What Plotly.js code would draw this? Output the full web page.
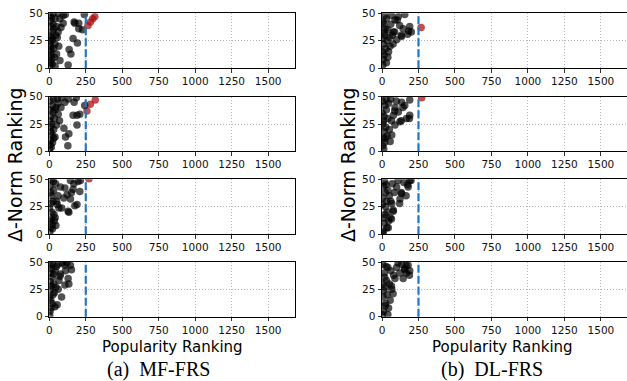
<!DOCTYPE html>
<html>
<head>
<meta charset="utf-8">
<script src="https://cdn.plot.ly/plotly-3.0.1.min.js"></script>
<style>html,body{margin:0;padding:0;background:#fff;}#chart{width:627px;height:381px;}</style>
</head>
<body>
<div id="chart"></div>
<script>
// ---- data: Popularity Ranking (x) vs Δ-Norm Ranking (y) ----
const threshold = 250;
const xTicks = [0, 250, 500, 750, 1000, 1250, 1500];
const yTicks = [0, 25, 50];
const panelCaptions = ["(a)  MF-FRS", "(b)  DL-FRS"];
const xLabel = "Popularity Ranking";
const yLabel = "Δ-Norm Ranking";

// MF-FRS, row 1
const mf1X = [265,282,298,312,240,202,227,175,202,170,163,193,136,148,129,73,95,73,39,95,39,50,61,110,80,55,45,30,25,20,15,10,8,5,12,3,18,6,2,30,22,40,35,15,5,28,60,10,4,2,8,50,65,20,12];
const mf1Y = [39,42,45,47,49,36,35,41,41,42,27,23,17,13,3,7,41,45,45,48,22,13,33,49,37,28,30,36,40,33,28,25,20,15,12,10,8,5,2,18,26,2,10,46,48,50,50,38,30,22,43,38,20,4,17];
// MF-FRS, row 2
const mf2X = [258,281,315,243,170,209,163,190,190,134,127,100,111,107,61,39,30,84,185,130,60,45,70,35,25,20,15,10,8,5,3,12,18,22,6,28,50,40,4,2,14,9,55,80,30];
const mf2Y = [37,43,47,42,45,34,33,24,33,16,5,21,13,45,34,13,20,49,49,48,44,40,28,30,36,42,25,18,10,6,2,32,15,8,46,48,24,38,28,38,4,22,48,40,12];
// MF-FRS, row 3
const mf3X = [272,213,197,168,145,163,209,152,122,145,100,190,175,134,129,107,77,54,66,43,32,20,85,60,30,25,15,10,18,12,8,4,6,22,35,40,2,5,28,15,50,45,10];
const mf3Y = [50.5,49,48,46,49,41,39,38,36,32,33,27,26,20,21,42,43,27,24,46,18,9,24,35,40,30,35,28,20,14,6,2,12,5,12,15,24,44,48,50,30,8,38];
// MF-FRS, row 4
const mf4X = [152,145,129,111,107,134,84,39,50,107,73,61,77,54,66,90,120,40,30,25,20,15,10,8,5,3,12,18,35,45,28,6,2,22,60,14,4,9];
const mf4Y = [43,47,35,42,29,30,18,9,46,47,37,25,39,11,33,49,49,42,30,20,36,44,15,25,5,1,8,12,22,27,39,32,18,48,48,28,40,47];

// DL-FRS, row 1
const dl1X = [268,183,201,190,145,134,156,112,89,78,100,105,87,76,121,176,132,60,50,40,35,30,25,20,15,10,8,5,2,12,18,45,55,30,22,65,4,6,14,40,70];
const dl1Y = [37,34,33,38,36,29,49,47,44,33,26,44,33,22,39,31,30,40,28,35,25,45,18,30,12,22,8,3,15,40,48,15,20,5,36,48,27,42,33,10,30];
// DL-FRS, row 2
const dl2X = [272,190,156,190,168,123,112,89,134,78,89,67,56,188,132,143,98,87,60,45,40,30,25,20,15,10,8,5,2,12,18,35,50,28,6,4,14,65,22];
const dl2Y = [49,47,42,33,30,27,36,40,45,33,24,15,9,30,28,40,46,37,48,44,30,38,22,42,18,28,12,5,35,2,8,14,20,48,25,46,32,28,12];
// DL-FRS, row 3
const dl3X = [190,199,179,176,134,165,100,123,121,132,78,76,67,65,56,43,33,150,110,85,70,50,40,30,25,20,15,10,5,8,12,18,4,22,35,45,2,60,28];
const dl3Y = [49,49,43,45,37,35,43,32,28,38,21,22,28,14,15,6,6,47,49,38,46,35,40,30,25,18,10,3,1,15,44,48,33,38,20,12,27,30,45];
// DL-FRS, row 4
const dl4X = [179,190,156,168,123,134,100,89,67,56,45,188,154,165,65,76,110,145,80,60,50,40,35,30,25,20,15,10,8,5,3,12,18,22,28,4,40];
const dl4Y = [47,42,44,40,40,48,45,35,25,15,8,38,43,47,28,21,49,35,38,42,30,45,20,33,12,27,40,5,18,48,2,24,36,10,46,30,2];

const panels = [
  [mf1X, mf1Y], [mf2X, mf2Y], [mf3X, mf3Y], [mf4X, mf4Y],
  [dl1X, dl1Y], [dl2X, dl2Y], [dl3X, dl3Y], [dl4X, dl4Y]
];

// ---- layout geometry (pixels) ----
const W = 627, H = 381;
const colPx = [[49.3, 294.7], [382, 627]];
const rowPx = [[13.3, 68.3], [96.7, 151.3], [179.3, 234.3], [262, 316.7]];
const xMax = [1682, 1679];

const data = [];
const layout = {
  width: W, height: H,
  margin: {l: 0, r: 0, t: 0, b: 0},
  paper_bgcolor: '#fff', plot_bgcolor: '#fff',
  showlegend: false,
  font: {family: 'DejaVu Sans, sans-serif', color: '#000'},
  shapes: [], annotations: []
};

panels.forEach((p, i) => {
  const col = i < 4 ? 0 : 1;
  const row = i % 4;
  const n = i + 1;
  const sfx = n === 1 ? '' : String(n);
  const xs = p[0], ys = p[1];
  const colors = xs.map(v => v > threshold ? 'rgba(170,10,10,0.72)' : 'rgba(0,0,0,0.68)');
  data.push({
    type: 'scatter', mode: 'markers',
    x: xs, y: ys,
    xaxis: 'x' + sfx, yaxis: 'y' + sfx,
    marker: {size: 7.5, color: colors, line: {width: 0}},
    cliponaxis: true, hoverinfo: 'skip'
  });
  const common = {
    ticks: 'outside', ticklen: 3.5, tickwidth: 0.8, tickcolor: '#000',
    tickfont: {size: 10.5, family: 'DejaVu Sans', color: '#111'},
    showgrid: true, gridcolor: '#a8a8a8', griddash: '1px,2px', gridwidth: 0.8,
    showline: true, linecolor: '#000', linewidth: 1, mirror: true,
    zeroline: false, fixedrange: true
  };
  layout['xaxis' + sfx] = Object.assign({
    domain: [colPx[col][0] / W, Math.min(1, colPx[col][1] / W)],
    range: [0, xMax[col]],
    anchor: 'y' + sfx,
    tickvals: xTicks, ticktext: xTicks.map(String)
  }, common);
  layout['yaxis' + sfx] = Object.assign({
    domain: [1 - rowPx[row][1] / H, 1 - rowPx[row][0] / H],
    range: [0, 50],
    anchor: 'x' + sfx,
    tickvals: yTicks, ticktext: yTicks.map(String)
  }, common);
  layout.shapes.push({
    type: 'line', xref: 'x' + sfx, yref: 'y' + sfx + ' domain',
    x0: threshold, x1: threshold, y0: 0, y1: 1,
    line: {color: '#1f77c8', width: 2.2, dash: '8px,3px'}
  });
});

// axis titles and captions
[0, 1].forEach(col => {
  const cx = col === 0 ? 172 : 502;
  layout.annotations.push({
    text: xLabel, xref: 'paper', yref: 'paper', x: cx / W, y: 1 - 347 / H,
    showarrow: false, xanchor: 'center', yanchor: 'middle',
    font: {size: 15, family: 'DejaVu Sans', color: '#000'}
  });
  layout.annotations.push({
    text: yLabel, xref: 'paper', yref: 'paper', x: (col === 0 ? 15 : 348) / W, y: 1 - 165 / H,
    showarrow: false, textangle: -90, xanchor: 'center', yanchor: 'middle',
    font: {size: 19, family: 'DejaVu Sans', color: '#000'}
  });
  layout.annotations.push({
    text: panelCaptions[col], xref: 'paper', yref: 'paper', x: (col === 0 ? 158 : 492) / W, y: 1 - 369 / H,
    showarrow: false, xanchor: 'center', yanchor: 'middle',
    font: {size: 20, family: 'Liberation Serif, Times New Roman, serif', color: '#000'}
  });
});

Plotly.newPlot('chart', data, layout, {staticPlot: true, displayModeBar: false});
</script>
</body>
</html>
